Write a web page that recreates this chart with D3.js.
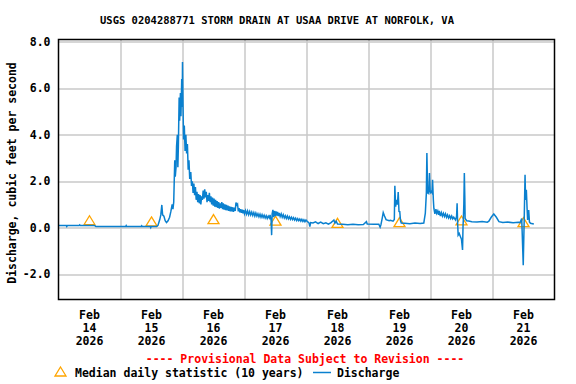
<!DOCTYPE html>
<html>
<head>
<meta charset="utf-8">
<script src="https://cdn.jsdelivr.net/npm/d3@7"></script>
<style>
  body { margin: 0; background: #fff; }
  svg { display: block; overflow: visible; }
  text { font-family: "DejaVu Sans Mono", monospace; font-weight: bold; }
</style>
</head>
<body>
<div id="chart"></div>
<script>
// ---- data ----
const titleText = "USGS 0204288771 STORM DRAIN AT USAA DRIVE AT NORFOLK, VA";
const yTicks = [-2, 0, 2, 4, 6, 8];
const dayLabels = ["14", "15", "16", "17", "18", "19", "20", "21"];

// median daily statistic, one per day (hours from Feb 14 00:00)
const medianHours = [12, 36, 60, 84, 108, 132, 156, 180];
const medianValues = [0.3, 0.25, 0.35, 0.28, 0.19, 0.22, 0.29, 0.22];

// discharge: [hours since Feb 14 00:00, cfs]
const discharge = [
  [0,0.09],[3,0.09],[3.2,0.05],[3.4,0.09],[8,0.09],[8.2,0.12],[8.5,0.09],[14,0.09],[14.5,0.05],
  [20,0.05],[26,0.05],[26.2,0.09],[26.4,0.05],[32,0.05],[32.2,0.08],[32.4,0.05],[35.5,0.05],
  [35.7,0.0],[35.9,0.05],[38,0.05],
  [38.5,0.1],[39.2,0.35],[39.6,0.55],[40.0,0.98],[40.3,0.55],[40.8,0.5],[41.3,0.3],[41.8,0.22],
  [42.4,0.3],[43,0.45],[43.5,0.7],[44,1.0],[44.3,0.8],[44.6,1.1],[45,2.9],[45.2,2.2],[45.5,2.6],
  [45.7,3.5],[46,4.0],[46.2,2.6],[46.4,3.5],[46.7,5.6],[46.9,4.6],[47.2,5.8],[47.4,4.8],[47.7,6.4],
  [47.9,5.2],[48,7.13],[48.2,5.3],[48.4,3.8],[48.7,4.4],[49,3.3],[49.3,4.0],[49.6,3.2],[49.9,3.6],
  [50.2,2.5],[50.5,2.9],[50.8,2.1],[51.2,2.4],[51.5,1.8],[51.8,2.0],[52.1,1.5],[52.4,1.9],[52.7,1.4],
  [53.0,1.75],[53.3,1.2],[53.6,1.55],[53.9,1.1],[54.2,1.45],[54.5,1.05],[54.8,1.4],[55.1,1.0],
  [55.4,1.35],[55.7,1.2],[56.0,1.6],[56.3,1.25],[56.6,1.65],[56.9,1.3],[57.2,1.55],[57.5,1.1],
  [57.8,1.4],[58.1,1.15],[58.4,1.5],[58.7,1.1],[59.0,1.35],[59.3,1.0],[59.6,1.3],[59.9,0.95],
  [60.2,1.25],[60.5,0.9],[60.8,1.2],[61.1,0.88],[61.4,1.15],[61.7,0.85],[62.0,1.1],[62.3,0.82],
  [62.6,1.05],[62.9,0.85],[63.2,1.1],[63.5,0.8],[63.8,1.05],[64.1,0.78],[64.4,1.0],[64.7,0.76],
  [65.0,0.98],[65.3,0.75],[65.6,0.95],[65.9,0.72],[66.2,0.92],[66.5,0.7],[66.8,0.9],[67.1,0.7],
  [67.4,0.88],[67.7,0.68],[68.0,0.86],[68.4,0.72],[68.7,1.08],[69.0,0.98],[69.3,1.02],[69.6,0.7],
  [69.9,0.84],[70.2,0.66],[70.5,0.8],[70.8,0.64],[71.1,0.78],[71.4,0.62],[71.7,0.76],[72.0,0.6],
  [72.4,0.74],[72.8,0.58],[73.2,0.72],[73.6,0.56],[74.0,0.7],[74.4,0.55],[74.8,0.67],[75.2,0.53],
  [75.6,0.65],[76.0,0.5],[76.4,0.63],[76.8,0.5],[77.2,0.6],[77.6,0.47],[78.0,0.58],[78.4,0.45],
  [78.8,0.56],[79.2,0.44],[79.6,0.54],[80.0,0.42],[80.4,0.52],[80.8,0.4],[81.2,0.5],[81.6,0.42],
  [81.9,0.55],[82.3,0.3],[82.5,-0.32],[82.7,0.6],[83,0.77],[83.3,0.45],[83.6,0.72],[83.9,0.5],
  [84.2,0.7],[84.5,0.52],[84.8,0.68],[85.1,0.5],[85.4,0.64],[85.8,0.48],[86.2,0.6],[86.6,0.45],
  [87.0,0.56],[87.4,0.42],[87.8,0.52],[88.2,0.4],[88.6,0.5],[89.0,0.38],[89.4,0.47],[89.8,0.36],
  [90.2,0.45],[90.6,0.35],[91.0,0.43],[91.4,0.33],[91.8,0.41],[92.2,0.31],[92.6,0.39],[93.0,0.3],
  [93.4,0.37],[93.8,0.28],[94.2,0.36],[94.6,0.27],[95.0,0.34],[95.4,0.26],[95.8,0.33],[96.3,0.27],
  [97,0.2],[97.3,0.05],[97.6,0.22],[98.5,0.2],[99.5,0.25],[100.5,0.18],[101.5,0.24],[102.5,0.17],
  [103.5,0.21],[104.5,0.15],[105.5,0.22],[106.3,0.3],[106.6,0.33],[107,0.2],[107.5,0.28],[108,0.16],
  [110,0.15],[112,0.13],[114,0.15],[116,0.13],[118,0.14],[119.2,0.26],[119.5,0.16],[122,0.15],
  [124,0.15],[124.5,0.02],[124.8,0.12],[125.3,0.4],[125.7,0.65],[126.2,0.5],[126.8,0.35],[127.2,0.33],
  [128,0.3],[128.5,0.32],[129.5,0.28],[130,0.35],[130.2,1.8],[130.5,0.9],[130.8,1.2],[131.2,1.0],
  [131.5,1.53],[131.8,0.7],[132.1,0.69],[132.4,0.3],[132.7,0.2],[134,0.19],[136,0.17],[138,0.2],
  [140,0.18],[141.4,0.2],[142,0.63],[142.4,1.5],[142.6,3.21],[142.9,1.5],[143.1,1.48],[143.4,1.6],
  [143.6,2.35],[143.9,1.5],[144.3,1.56],[144.6,1.5],[144.8,2.06],[145.1,1.2],[145.3,0.84],[145.7,0.6],
  [146.1,0.8],[146.4,0.62],[146.8,0.72],[147.1,0.55],[147.4,0.72],[147.8,0.5],[148.2,0.65],[148.6,0.5],
  [149.0,0.62],[149.4,0.48],[149.8,0.6],[150.2,0.45],[150.6,0.55],[151.0,0.42],[151.4,0.52],[151.8,0.4],
  [152.2,0.5],[152.6,0.38],[153,0.45],[153.7,0.33],[154.1,0.5],
  [154.3,1.05],[154.5,0.2],[154.7,-0.32],[155.1,-0.25],[155.6,-0.39],[156,-0.5],[156.4,-0.96],
  [156.6,0.1],[156.7,0.33],[156.9,1.0],[157.1,2.35],[157.3,1.2],[157.4,0.4],[158,0.3],[158.8,0.29],
  [160,0.26],[162,0.25],[164,0.27],[166,0.24],[166.6,0.28],[167.5,0.45],[168.5,0.59],[169.5,0.45],
  [170.5,0.26],[172,0.22],[174,0.24],[176,0.21],[178,0.23],[178.6,0.22],[179,0.3],[179.3,0.4],
  [179.5,-0.24],[179.9,-1.61],[180.1,-0.53],[180.3,0.5],[180.6,2.28],[180.8,1.2],[181.1,1.63],
  [181.4,0.8],[181.6,0.33],[182,0.76],[182.3,0.25],[182.7,0.19],[184,0.16]
];

// ---- layout ----
const width = 576, height = 384;
const margin = { top: 39.5, left: 58.5 };
const innerWidth = 496, innerHeight = 260;
const start = new Date(2026, 1, 14);
const toDate = h => new Date(start.getTime() + h * 3600e3);

const svg = d3.select("#chart").append("svg")
  .attr("width", width).attr("height", height);

svg.append("text")
  .attr("x", 277).attr("y", 24)
  .attr("text-anchor", "middle")
  .style("font-size", "10.5px")
  .text(titleText);

const g = svg.append("g")
  .attr("transform", `translate(${margin.left},${margin.top})`);

const x = d3.scaleTime()
  .domain([start, toDate(192)])
  .range([0, innerWidth]);
const y = d3.scaleLinear()
  .domain([-3.09, 8.1])
  .range([innerHeight, 0]);

// grid
g.append("g").selectAll("line")
  .data(yTicks).enter().append("line")
  .attr("x1", 0).attr("x2", innerWidth)
  .attr("y1", d => Math.round(y(d)) + 0.5).attr("y2", d => Math.round(y(d)) + 0.5)
  .attr("stroke", "#c8c8c8").attr("stroke-width", 1.5);
g.append("g").selectAll("line")
  .data(d3.range(1, 8)).enter().append("line")
  .attr("x1", d => Math.round(x(toDate(d * 24))) + 0.5).attr("x2", d => Math.round(x(toDate(d * 24))) + 0.5)
  .attr("y1", 0).attr("y2", innerHeight)
  .attr("stroke", "#c8c8c8").attr("stroke-width", 1.5);

// y tick labels
g.append("g").selectAll("text")
  .data(yTicks).enter().append("text")
  .attr("x", -8).attr("y", d => y(d) + 4)
  .attr("text-anchor", "end")
  .style("font-size", "11.5px")
  .text(d => d3.format(".1f")(d).replace("\u2212", "-"));

// x tick labels (centered at noon)
const xl = g.append("g").selectAll("text")
  .data(dayLabels).enter().append("text")
  .attr("text-anchor", "middle")
  .attr("transform", (d, i) => `translate(${x(toDate(i * 24 + 12))},${innerHeight + 19})`)
  .style("font-size", "11.5px");
xl.append("tspan").attr("x", 0).attr("dy", 0).text("Feb");
xl.append("tspan").attr("x", 0).attr("dy", 13).text(d => d);
xl.append("tspan").attr("x", 0).attr("dy", 13).text("2026");

// y axis title
svg.append("text")
  .attr("transform", "translate(16,173) rotate(-90)")
  .attr("text-anchor", "middle")
  .style("font-size", "11.5px")
  .text("Discharge, cubic feet per second");

// median triangles
const tri = "M0,-5L5.5,4L-5.5,4Z";
g.append("g").selectAll("path")
  .data(medianHours).enter().append("path")
  .attr("d", tri)
  .attr("transform", (d, i) => `translate(${x(toDate(d))},${y(medianValues[i])})`)
  .attr("fill", "none").attr("stroke", "#ffa500").attr("stroke-width", 1.3);

// discharge line
const line = d3.line()
  .x(d => x(toDate(d[0])))
  .y(d => y(d[1]));
g.append("path")
  .datum(discharge)
  .attr("d", line)
  .attr("fill", "none")
  .attr("stroke", "#0a80cf")
  .attr("stroke-width", 1.5);

// frame
g.append("rect")
  .attr("x", 0).attr("y", 0)
  .attr("width", innerWidth).attr("height", innerHeight)
  .attr("fill", "none").attr("stroke", "#000").attr("stroke-width", 1.5);

// provisional note
svg.append("text")
  .attr("x", 305).attr("y", 363)
  .attr("text-anchor", "middle")
  .attr("fill", "#ff0000")
  .style("font-size", "11.5px")
  .text("---- Provisional Data Subject to Revision ----");

// legend
svg.append("path")
  .attr("d", tri)
  .attr("transform", "translate(60.5,372)")
  .attr("fill", "none").attr("stroke", "#ffa500").attr("stroke-width", 1.3);
svg.append("text")
  .attr("x", 75).attr("y", 377)
  .style("font-size", "11.5px")
  .text("Median daily statistic (10 years)");
svg.append("line")
  .attr("x1", 313).attr("x2", 331).attr("y1", 372.5).attr("y2", 372.5)
  .attr("stroke", "#0a80cf").attr("stroke-width", 1.5);
svg.append("text")
  .attr("x", 337).attr("y", 377)
  .style("font-size", "11.5px")
  .text("Discharge");
</script>
</body>
</html>
